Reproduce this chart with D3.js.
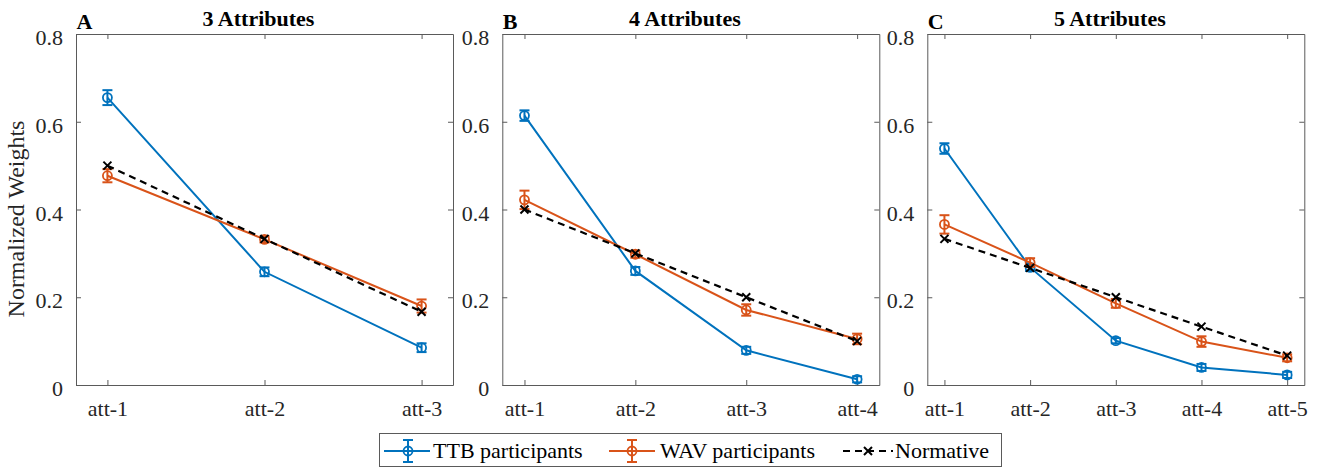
<!DOCTYPE html>
<html><head><meta charset="utf-8">
<script src="https://cdn.jsdelivr.net/npm/d3@7"></script>
<style>
html,body{margin:0;padding:0;background:#fff;}
svg{display:block;}
</style></head>
<body>
<svg id="chart" width="1317" height="469"></svg>
<script>
// ---- data ----
const panelLetters = ["A", "B", "C"];
const panelTitles = ["3 Attributes", "4 Attributes", "5 Attributes"];
const categoriesA = ["att-1", "att-2", "att-3"];
const categoriesB = ["att-1", "att-2", "att-3", "att-4"];
const categoriesC = ["att-1", "att-2", "att-3", "att-4", "att-5"];

const ttbA = [0.655, 0.258, 0.085];
const ttbErrA = [0.017, 0.010, 0.010];
const wavA = [0.477, 0.332, 0.180];
const wavErrA = [0.015, 0.007, 0.015];
const normA = [0.5, 0.333, 0.167];

const ttbB = [0.614, 0.260, 0.079, 0.013];
const ttbErrB = [0.012, 0.009, 0.008, 0.007];
const wavB = [0.422, 0.298, 0.171, 0.105];
const wavErrB = [0.021, 0.008, 0.013, 0.012];
const normB = [0.4, 0.3, 0.2, 0.1];

const ttbC = [0.539, 0.268, 0.101, 0.040, 0.023];
const ttbErrC = [0.012, 0.008, 0.006, 0.008, 0.007];
const wavC = [0.366, 0.279, 0.186, 0.099, 0.062];
const wavErrC = [0.021, 0.010, 0.010, 0.012, 0.008];
const normC = [0.333, 0.267, 0.2, 0.133, 0.067];

const yTicks = [0, 0.2, 0.4, 0.6, 0.8];
const yTickLabels = ["0", "0.2", "0.4", "0.6", "0.8"];
const legendLabels = ["TTB participants", "WAV participants", "Normative"];

// ---- layout ----
const SERIF = "'Liberation Serif'";
const svg = d3.select("#chart");
const BLUE = "#0072BD", ORANGE = "#D95319";
const AXC = "#262626";
const AXLINE = "#5a5a5a";
const panelLeft = [76, 502.3, 927.3];
const pw = 377, plotTop = 34, plotBottom = 385;
const panels = [
  {cats: categoriesA, ttb: ttbA, ttbE: ttbErrA, wav: wavA, wavE: wavErrA, norm: normA},
  {cats: categoriesB, ttb: ttbB, ttbE: ttbErrB, wav: wavB, wavE: wavErrB, norm: normB},
  {cats: categoriesC, ttb: ttbC, ttbE: ttbErrC, wav: wavC, wavE: wavErrC, norm: normC}
];

const y = d3.scaleLinear().domain([0, 0.8]).range([plotBottom, plotTop]);

function drawX(g, cx, cy, s, color) {
  g.append("path")
    .attr("d", `M${cx - s},${cy - s}L${cx + s},${cy + s}M${cx - s},${cy + s}L${cx + s},${cy - s}`)
    .attr("stroke", color).attr("stroke-width", 2).attr("fill", "none");
}

function drawErrMarker(g, cx, cyTop, cyMid, cyBot, color) {
  g.append("line").attr("x1", cx).attr("x2", cx).attr("y1", cyTop).attr("y2", cyBot)
    .attr("stroke", color).attr("stroke-width", 2);
  g.append("line").attr("x1", cx - 5).attr("x2", cx + 5).attr("y1", cyTop).attr("y2", cyTop)
    .attr("stroke", color).attr("stroke-width", 2);
  g.append("line").attr("x1", cx - 5).attr("x2", cx + 5).attr("y1", cyBot).attr("y2", cyBot)
    .attr("stroke", color).attr("stroke-width", 2);
  g.append("circle").attr("cx", cx).attr("cy", cyMid).attr("r", 4.5)
    .attr("fill", "none").attr("stroke", color).attr("stroke-width", 1.8);
}

function txt(g, x, yy, s, size, opts) {
  const t = g.append("text").attr("x", x).attr("y", yy).text(s)
    .attr("font-family", SERIF)
    .style("font-family", SERIF).style("font-size", size + "px")
    .attr("fill", (opts && opts.fill) || "#000")
    .attr("text-anchor", (opts && opts.anchor) || "start");
  if (opts && opts.bold) t.style("font-weight", "bold");
  return t;
}

panels.forEach((p, i) => {
  const n = p.cats.length;
  const x0 = panelLeft[i];
  const x = d3.scaleLinear().domain([0.8, n + 0.2]).range([x0, x0 + pw]);
  const g = svg.append("g");
  const idx = d3.range(n);

  const axL = d3.axisLeft(y).tickValues(yTicks).tickFormat((d, k) => yTickLabels[k]).tickSizeInner(-5).tickSizeOuter(0).tickPadding(13);
  const axR = d3.axisRight(y).tickValues(yTicks).tickFormat("").tickSizeInner(-5).tickSizeOuter(0);
  const axB = d3.axisBottom(x).tickValues(idx.map(k => k + 1)).tickFormat((d) => p.cats[d - 1]).tickSizeInner(-5).tickSizeOuter(0).tickPadding(19);
  const axT = d3.axisTop(x).tickValues(idx.map(k => k + 1)).tickFormat("").tickSizeInner(-5).tickSizeOuter(0);

  const gl = g.append("g").attr("transform", `translate(${x0},0)`).call(axL);
  const gr = g.append("g").attr("transform", `translate(${x0 + pw},0)`).call(axR);
  const gb = g.append("g").attr("transform", `translate(0,${plotBottom})`).call(axB);
  const gt = g.append("g").attr("transform", `translate(0,${plotTop})`).call(axT);
  [gl, gr, gb, gt].forEach(a => {
    a.attr("font-family", SERIF).attr("font-size", 22);
    a.select(".domain").attr("stroke", AXLINE).attr("stroke-width", 1);
    a.selectAll(".tick line").attr("stroke", AXLINE).attr("stroke-width", 1);
    a.selectAll(".tick text").attr("fill", AXC).style("font-family", SERIF).style("font-size", "22px");
  });
  gl.selectAll(".tick text").attr("dy", "0.48em");
  gb.selectAll(".tick text").attr("dy", "0.55em");

  txt(g, x0 + pw / 2 - 6, 26, panelTitles[i], 22, {anchor: "middle", bold: true});
  txt(g, x0 + 0.5, 29, panelLetters[i], 22, {bold: true});

  const line = d3.line().x((d, k) => x(k + 1)).y(d => y(d));

  g.append("path").datum(p.ttb).attr("d", line).attr("fill", "none").attr("stroke", BLUE).attr("stroke-width", 2);
  p.ttb.forEach((v, k) => drawErrMarker(g, x(k + 1), y(v + p.ttbE[k]), y(v), y(v - p.ttbE[k]), BLUE));
  g.append("path").datum(p.wav).attr("d", line).attr("fill", "none").attr("stroke", ORANGE).attr("stroke-width", 2);
  p.wav.forEach((v, k) => drawErrMarker(g, x(k + 1), y(v + p.wavE[k]), y(v), y(v - p.wavE[k]), ORANGE));
  g.append("path").datum(p.norm).attr("d", line).attr("fill", "none").attr("stroke", "#000")
    .attr("stroke-width", 2.2).attr("stroke-dasharray", "7,5");
  p.norm.forEach((v, k) => drawX(g, x(k + 1), y(v), 4, "#000"));
});

txt(svg, 0, 0, "Normalized Weights", 24, {anchor: "middle", fill: AXC})
  .attr("transform", "translate(24,219) rotate(-90)");

const lg = svg.append("g");
lg.append("rect").attr("x", 379.5).attr("y", 433.5).attr("width", 622).attr("height", 33)
  .attr("fill", "#fff").attr("stroke", AXLINE).attr("stroke-width", 1);
const ly = 451;
lg.append("line").attr("x1", 384).attr("x2", 430).attr("y1", ly).attr("y2", ly).attr("stroke", BLUE).attr("stroke-width", 2);
drawErrMarker(lg, 408, ly - 11, ly, ly + 11, BLUE);
txt(lg, 433, ly + 7, legendLabels[0], 22);
lg.append("line").attr("x1", 609).attr("x2", 655).attr("y1", ly).attr("y2", ly).attr("stroke", ORANGE).attr("stroke-width", 2);
drawErrMarker(lg, 632, ly - 11, ly, ly + 11, ORANGE);
txt(lg, 660, ly + 7, legendLabels[1], 22);
lg.append("line").attr("x1", 843).attr("x2", 893).attr("y1", ly).attr("y2", ly).attr("stroke", "#000")
  .attr("stroke-width", 2.2).attr("stroke-dasharray", "7,5");
drawX(lg, 868, ly, 4, "#000");
txt(lg, 895, ly + 7, legendLabels[2], 22);
</script>
</body></html>
